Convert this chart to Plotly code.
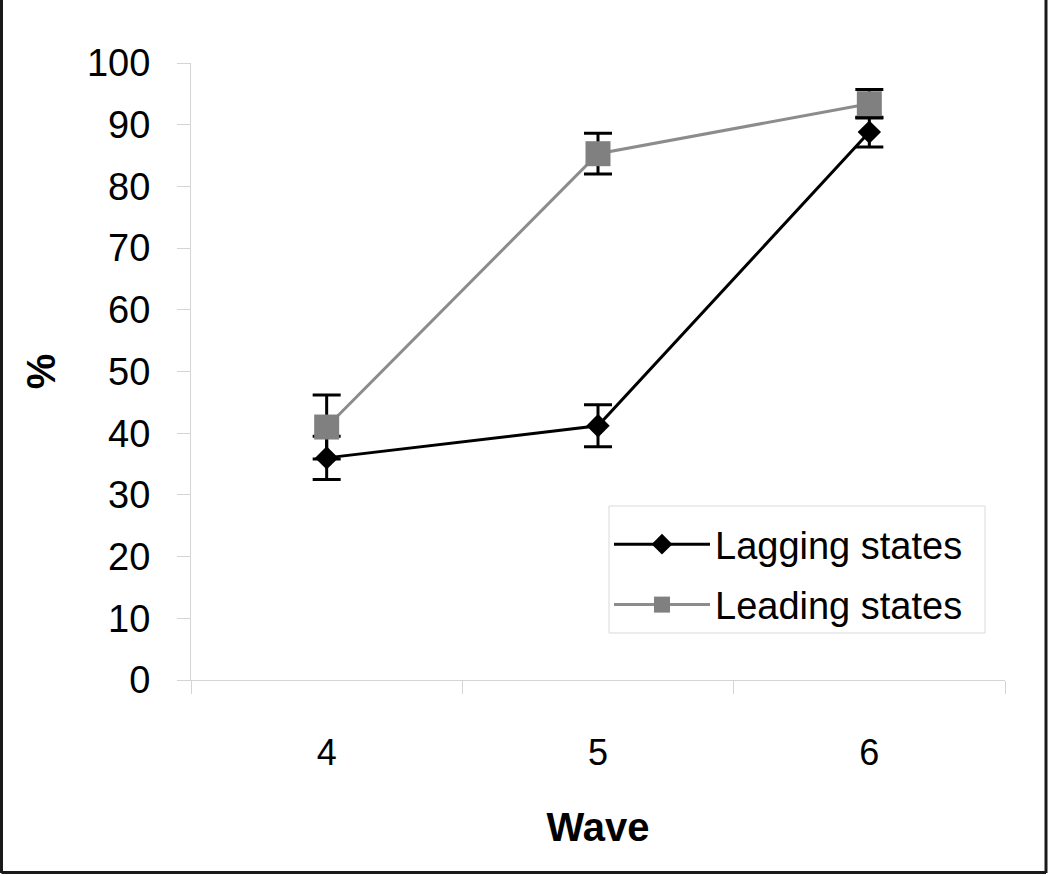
import plotly.graph_objects as go

waves = ["4", "5", "6"]
lagging = [36.0, 41.2, 88.8]
lagging_err = [3.5, 3.4, 2.4]
leading = [41.0, 85.3, 93.4]
leading_err = [5.2, 3.3, 2.3]

FONT = "Liberation Sans, Arial, sans-serif"
W, H = 1050, 876
L, R, T, B = 191, 45, 63, 196
PW, PH = W - L - R, H - T - B


def px_x(p):
    return (p - L) / PW


def px_y(p):
    return (H - B - p) / PH


fig = go.Figure()
fig.add_trace(go.Scatter(
    x=waves, y=lagging, name="Lagging states", mode="lines+markers",
    line=dict(color="#000000", width=3),
    marker=dict(symbol="diamond", size=18, color="#000000"),
    error_y=dict(type="data", array=lagging_err, visible=True,
                 color="#000000", thickness=3, width=14),
    legendgroup="a",
))
fig.add_trace(go.Scatter(
    x=waves, y=leading, name="Leading states", mode="lines+markers",
    line=dict(color="#8c8c8c", width=3),
    marker=dict(symbol="square", size=25, color="#808080"),
    error_y=dict(type="data", array=leading_err, visible=True,
                 color="#000000", thickness=3, width=14),
    legendgroup="b",
))

axis_gray = "#d4d4d4"
fig.update_layout(
    width=W, height=H,
    margin=dict(l=L, r=R, t=T, b=B, autoexpand=False),
    paper_bgcolor="white", plot_bgcolor="white",
    font=dict(family=FONT, size=38, color="#000000"),
    showlegend=True,
    legend=dict(
        x=px_x(609), y=px_y(513), xanchor="left", yanchor="top",
        bgcolor="rgba(0,0,0,0)", borderwidth=0,
        font=dict(family=FONT, size=38, color="#000000"),
        itemwidth=96, traceorder="grouped", tracegroupgap=8,
    ),
    xaxis=dict(
        type="category", range=[-0.5, 2.5], tickson="boundaries",
        ticks="outside", ticklen=13, tickcolor=axis_gray, tickwidth=1,
        showline=True, linecolor=axis_gray, linewidth=1,
        showgrid=False, zeroline=False, ticklabelstandoff=41,
        tickfont=dict(family=FONT, size=36),
        title=dict(text="<b>Wave</b>", font=dict(family=FONT, size=40), standoff=40),
    ),
    yaxis=dict(
        range=[0, 100], dtick=10, tick0=0,
        ticks="outside", ticklen=13, tickcolor=axis_gray, tickwidth=1,
        showline=True, linecolor=axis_gray, linewidth=1,
        showgrid=False, zeroline=False, ticklabelstandoff=19,
        tickfont=dict(family=FONT, size=38),
        title=dict(text="<b>%</b>", font=dict(family=FONT, size=40), standoff=18),
    ),
)

# legend frame
fig.add_shape(type="rect", xref="paper", yref="paper", layer="above",
              x0=px_x(609), x1=px_x(985), y0=px_y(633), y1=px_y(506),
              fillcolor="white", line=dict(color="#d9d9d9", width=1))

border = dict(type="line", xref="paper", yref="paper",
              line=dict(color="#1a1a1a", width=3))
fig.add_shape(x0=px_x(1.5), x1=px_x(1.5), y0=px_y(-10), y1=px_y(873), **border)
fig.add_shape(x0=px_x(1046), x1=px_x(1046), y0=px_y(-10), y1=px_y(873), **border)
fig.add_shape(x0=px_x(1.5), x1=px_x(1046), y0=px_y(872.5), y1=px_y(872.5), **border)

fig.write_html(
    "out.html",
    config={"displayModeBar": False},
    post_script="document.body.style.margin='0';document.body.style.overflow='hidden';",
)
